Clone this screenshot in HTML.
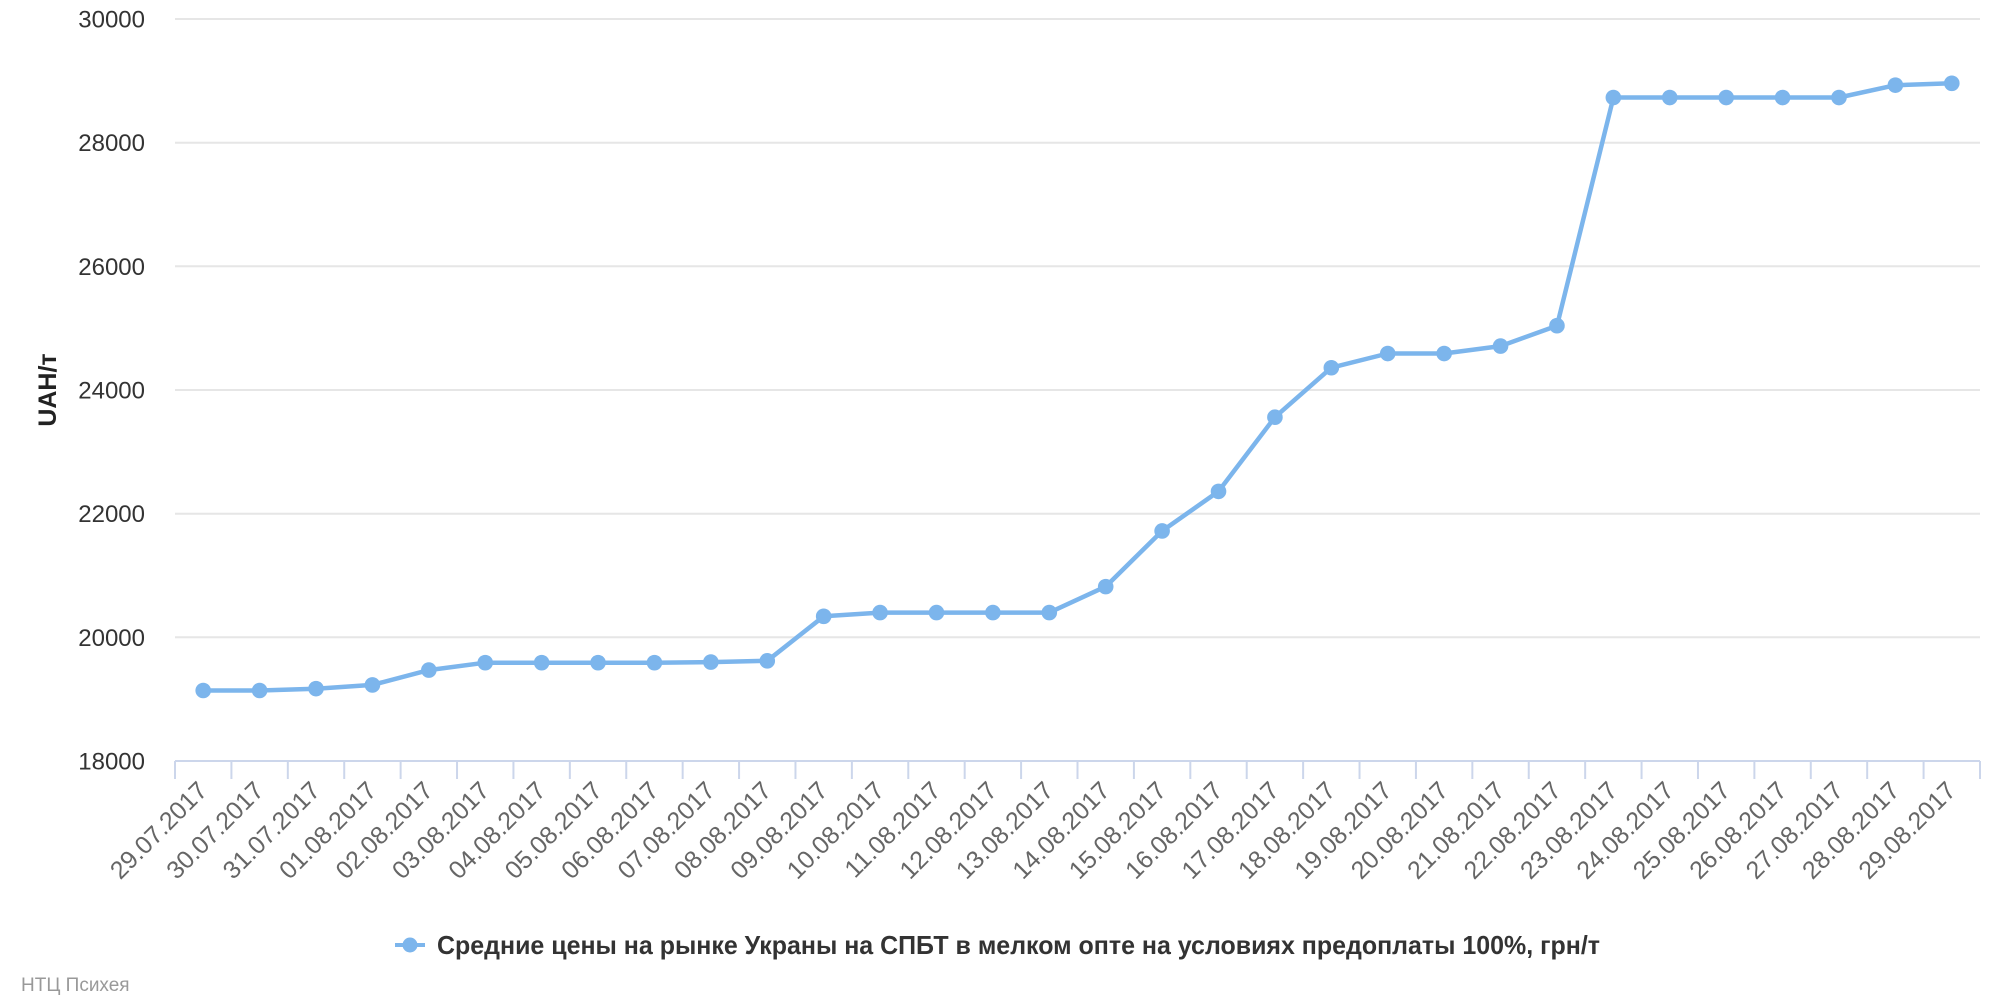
<!DOCTYPE html>
<html><head><meta charset="utf-8"><style>
html,body{margin:0;padding:0;background:#fff;}
svg{display:block;}
text{font-family:"Liberation Sans","DejaVu Sans",sans-serif;}
</style></head><body>
<svg width="2000" height="1000" viewBox="0 0 2000 1000" xmlns="http://www.w3.org/2000/svg">
<rect width="2000" height="1000" fill="#fff"/>
<g stroke="#e6e6e6" stroke-width="2">
<line x1="175" y1="19" x2="1980" y2="19"/>
<line x1="175" y1="142.7" x2="1980" y2="142.7"/>
<line x1="175" y1="266.3" x2="1980" y2="266.3"/>
<line x1="175" y1="390" x2="1980" y2="390"/>
<line x1="175" y1="513.7" x2="1980" y2="513.7"/>
<line x1="175" y1="637.3" x2="1980" y2="637.3"/>
</g>
<g font-size="24" fill="#333" text-anchor="end">
<text x="145" y="27.5">30000</text>
<text x="145" y="151.2">28000</text>
<text x="145" y="274.8">26000</text>
<text x="145" y="398.5">24000</text>
<text x="145" y="522.2">22000</text>
<text x="145" y="645.8">20000</text>
<text x="145" y="769.5">18000</text>
</g>
<text transform="translate(56,390) rotate(-90)" text-anchor="middle" font-size="25" font-weight="bold" fill="#222">UAH/т</text>
<line x1="175" y1="761" x2="1980" y2="761" stroke="#ccd6eb" stroke-width="2"/>
<g stroke="#ccd6eb" stroke-width="2" id="ticks"></g>
<g id="xl" font-size="25" fill="#666" text-anchor="end"></g>
<polyline id="ln" fill="none" stroke="#7cb5ec" stroke-width="4.5" stroke-linejoin="round" stroke-linecap="round" points=""/>
<g id="mk" fill="#7cb5ec"></g>
<line x1="395" y1="945" x2="425" y2="945" stroke="#7cb5ec" stroke-width="4"/>
<circle cx="410" cy="945" r="7.5" fill="#7cb5ec"/>
<text x="437" y="954" font-size="26" font-weight="bold" fill="#333" textLength="1163" lengthAdjust="spacingAndGlyphs">Средние цены на рынке Украны на СПБТ в мелком опте на условиях предоплаты 100%, грн/т</text>
<text x="21" y="991" font-size="19" fill="#999">НТЦ Психея</text>
</svg>
<script>
(function(){
var NS="http://www.w3.org/2000/svg";
var vals=[19140,19140,19170,19230,19470,19590,19590,19590,19590,19600,19620,20340,20400,20400,20400,20400,20820,21720,22360,23560,24360,24590,24590,24710,25040,28730,28730,28730,28730,28730,28930,28960];
var labels=["29.07.2017","30.07.2017","31.07.2017","01.08.2017","02.08.2017","03.08.2017","04.08.2017","05.08.2017","06.08.2017","07.08.2017","08.08.2017","09.08.2017","10.08.2017","11.08.2017","12.08.2017","13.08.2017","14.08.2017","15.08.2017","16.08.2017","17.08.2017","18.08.2017","19.08.2017","20.08.2017","21.08.2017","22.08.2017","23.08.2017","24.08.2017","25.08.2017","26.08.2017","27.08.2017","28.08.2017","29.08.2017"];
var x0=175,step=56.40625;
function Y(v){return 761-(v-18000)*742/12000;}
var ticks=document.getElementById("ticks");
for(var k=0;k<=32;k++){var tx=x0+k*step;var l=document.createElementNS(NS,"line");l.setAttribute("x1",tx);l.setAttribute("x2",tx);l.setAttribute("y1",761);l.setAttribute("y2",779);ticks.appendChild(l);}
var pts=[],mk=document.getElementById("mk"),xl=document.getElementById("xl");
for(var i=0;i<vals.length;i++){
var cx=x0+step/2+i*step,cy=Y(vals[i]);
pts.push(cx.toFixed(1)+","+cy.toFixed(1));
var c=document.createElementNS(NS,"circle");c.setAttribute("cx",cx);c.setAttribute("cy",cy);c.setAttribute("r",7.8);mk.appendChild(c);
var t=document.createElementNS(NS,"text");var ax=cx+5.6,ay=792;
t.setAttribute("x",ax);t.setAttribute("y",ay);t.setAttribute("transform","rotate(-45 "+ax+" "+ay+")");t.textContent=labels[i];xl.appendChild(t);
}
document.getElementById("ln").setAttribute("points",pts.join(" "));
})();
</script>
</body></html>
